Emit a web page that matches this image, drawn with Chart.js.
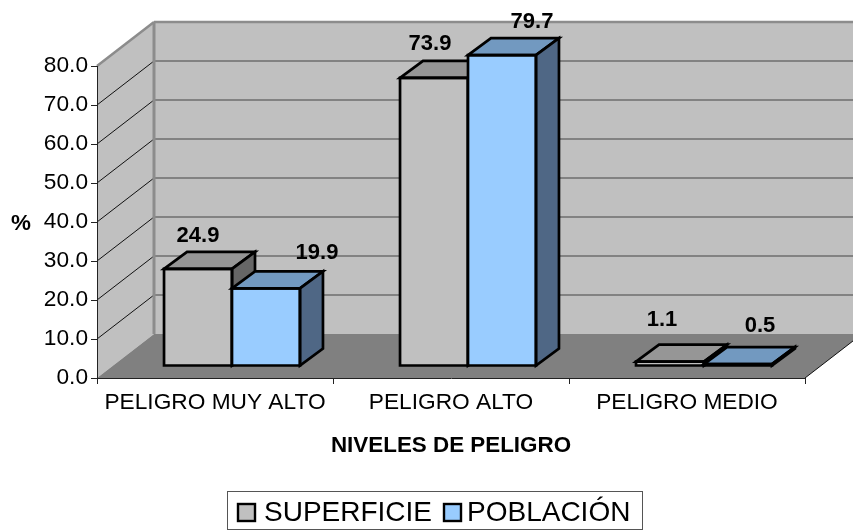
<!DOCTYPE html>
<html>
<head>
<meta charset="utf-8">
<style>html,body{margin:0;padding:0;background:#fff}canvas{display:block}</style>
<script src="https://cdn.jsdelivr.net/npm/chart.js@4"></script>
</head>
<body>
<canvas id="c" width="853" height="531"></canvas>
<script>
const categories = ['PELIGRO MUY ALTO', 'PELIGRO ALTO', 'PELIGRO MEDIO'];
const superficie = [24.9, 73.9, 1.1];
const poblacion = [19.9, 79.7, 0.5];
const seriesNames = ['SUPERFICIE', 'POBLACIÓN'];
const xTitle = 'NIVELES DE PELIGRO';
const yTitle = '%';

const FONT = '"Liberation Sans", Arial, sans-serif';
const WALL = {dx: 57, dy: 44};
const BAR_SHIFT = {dx: 17, dy: 12};
const BAR_DEPTH = {dx: 23, dy: 17};
const faces = [
  {front: '#c0c0c0', top: '#969696', side: '#666666'},
  {front: '#99ccff', top: '#7299c0', side: '#4f6785'}
];
// hand-placed label offsets from bar centre/top, as in the reference
const labelNudge = [
  [[0, -33], [-4, -34], [-8, -42]],
  [[51, -35], [30, -33], [22, -38]]
];

function poly(ctx, pts, fill, stroke, lw) {
  ctx.beginPath();
  pts.forEach((p, i) => i ? ctx.lineTo(p[0], p[1]) : ctx.moveTo(p[0], p[1]));
  ctx.closePath();
  if (fill) { ctx.fillStyle = fill; ctx.fill(); }
  if (stroke) { ctx.strokeStyle = stroke; ctx.lineWidth = lw; ctx.stroke(); }
}
function line(ctx, x1, y1, x2, y2, color, lw) {
  ctx.beginPath(); ctx.moveTo(x1, y1); ctx.lineTo(x2, y2);
  ctx.strokeStyle = color; ctx.lineWidth = lw; ctx.stroke();
}

const scene3d = {
  id: 'scene3d',
  beforeDraw(chart) {
    const {ctx, chartArea: a, scales: {y}} = chart;
    const {dx, dy} = WALL;
    ctx.save();
    poly(ctx, [[a.left + dx, a.top - dy], [a.right + dx, a.top - dy], [a.right + dx, a.bottom - dy], [a.left + dx, a.bottom - dy]], '#c0c0c0');
    poly(ctx, [[a.left, a.top], [a.left + dx, a.top - dy], [a.left + dx, a.bottom - dy], [a.left, a.bottom]], '#c0c0c0');
    y.ticks.forEach(t => {
      const py = y.getPixelForValue(t.value);
      if (t.value > 0 && t.value < y.max) {
        line(ctx, a.left, py, a.left + dx, py - dy, '#111111', 1);
        line(ctx, a.left + dx, py - dy, a.right + dx, py - dy, '#6e6e6e', 1.6);
      }
    });
    poly(ctx, [[a.left, a.bottom], [a.right, a.bottom], [a.right + dx, a.bottom - dy], [a.left + dx, a.bottom - dy]], '#808080');
    line(ctx, a.right, a.bottom, a.right + dx, a.bottom - dy, '#111111', 1);
    line(ctx, a.left, a.top, a.left + dx, a.top - dy, '#8c8c8c', 2.5);
    line(ctx, a.left + dx, a.top - dy, a.right + dx, a.top - dy, '#8c8c8c', 2.5);
    line(ctx, a.left + dx, a.top - dy, a.left + dx, a.bottom - dy, '#8c8c8c', 3);
    ctx.restore();
  },
  beforeDatasetsDraw(chart) {
    const {ctx} = chart;
    const bx = BAR_SHIFT.dx, by = BAR_SHIFT.dy, ddx = BAR_DEPTH.dx, ddy = BAR_DEPTH.dy;
    chart.data.datasets.forEach((ds, di) => {
      const meta = chart.getDatasetMeta(di);
      ctx.save();
      ctx.translate(bx, -by);
      meta.controller.draw();
      ctx.lineJoin = 'miter';
      meta.data.forEach(el => {
        const l = el.x - el.width / 2, r = el.x + el.width / 2, t = el.y, b = el.base;
        poly(ctx, [[l, t], [l + ddx, t - ddy], [r + ddx, t - ddy], [r, t]], faces[di].top, '#000', 2.7);
        poly(ctx, [[r, t], [r + ddx, t - ddy], [r + ddx, b - ddy], [r, b]], faces[di].side, '#000', 2.7);
        poly(ctx, [[l, t], [r, t], [r, b], [l, b]], null, '#000', 2.7);
      });
      ctx.restore();
    });
    return false;
  },
  afterDraw(chart) {
    const {ctx} = chart;
    ctx.save();
    ctx.fillStyle = '#000';
    ctx.textBaseline = 'middle';
    ctx.textAlign = 'center';
    ctx.font = 'bold 22px ' + FONT;
    chart.data.datasets.forEach((ds, di) => {
      chart.getDatasetMeta(di).data.forEach((el, i) => {
        const n = labelNudge[di][i];
        ctx.fillText(ds.data[i].toFixed(1), el.x + BAR_SHIFT.dx + n[0], el.y - BAR_SHIFT.dy + n[1]);
      });
    });
    ctx.font = 'bold 22.4px ' + FONT;
    ctx.fillText(xTitle, 451, 446);
    ctx.fillText(yTitle, 21, 224);
    // legend
    ctx.strokeStyle = '#555'; ctx.lineWidth = 1;
    ctx.strokeRect(227.5, 491.5, 415, 38);
    ctx.textAlign = 'left';
    ctx.font = '28px ' + FONT;
    const items = [[238, 264], [444, 467]];
    seriesNames.forEach((name, i) => {
      ctx.fillStyle = faces[i].front;
      ctx.fillRect(items[i][0], 504, 17, 17);
      ctx.strokeStyle = '#000'; ctx.lineWidth = 2.4;
      ctx.strokeRect(items[i][0], 504, 17, 17);
      ctx.fillStyle = '#000';
      ctx.fillText(name, items[i][1], 513);
    });
    ctx.restore();
  }
};

new Chart(document.getElementById('c'), {
  type: 'bar',
  data: {
    labels: categories,
    datasets: [
      {label: seriesNames[0], data: superficie, backgroundColor: faces[0].front, borderWidth: 0},
      {label: seriesNames[1], data: poblacion, backgroundColor: faces[1].front, borderWidth: 0}
    ]
  },
  options: {
    responsive: false,
    animation: false,
    events: [],
    layout: {autoPadding: false, padding: {left: 0, top: 66, right: 48, bottom: 0}},
    datasets: {bar: {barPercentage: 1, categoryPercentage: 0.576}},
    plugins: {legend: {display: false}, tooltip: {enabled: false}, title: {display: false}},
    scales: {
      x: {
        afterFit(s) { s.height = 153; },
        grid: {drawOnChartArea: false, drawTicks: true, tickLength: 6, color: '#222'},
        border: {color: '#222', width: 1},
        ticks: {color: '#000', font: {family: FONT, size: 22.7}, padding: 5, maxRotation: 0, autoSkip: false}
      },
      y: {
        min: 0, max: 80,
        afterFit(s) { s.width = 97; },
        grid: {drawOnChartArea: false, drawTicks: true, tickLength: 6, color: '#222'},
        border: {color: '#222', width: 1},
        ticks: {color: '#000', stepSize: 10, font: {family: FONT, size: 22.7}, padding: 3, callback: v => v.toFixed(1)}
      }
    }
  },
  plugins: [scene3d]
});
</script>
</body>
</html>
